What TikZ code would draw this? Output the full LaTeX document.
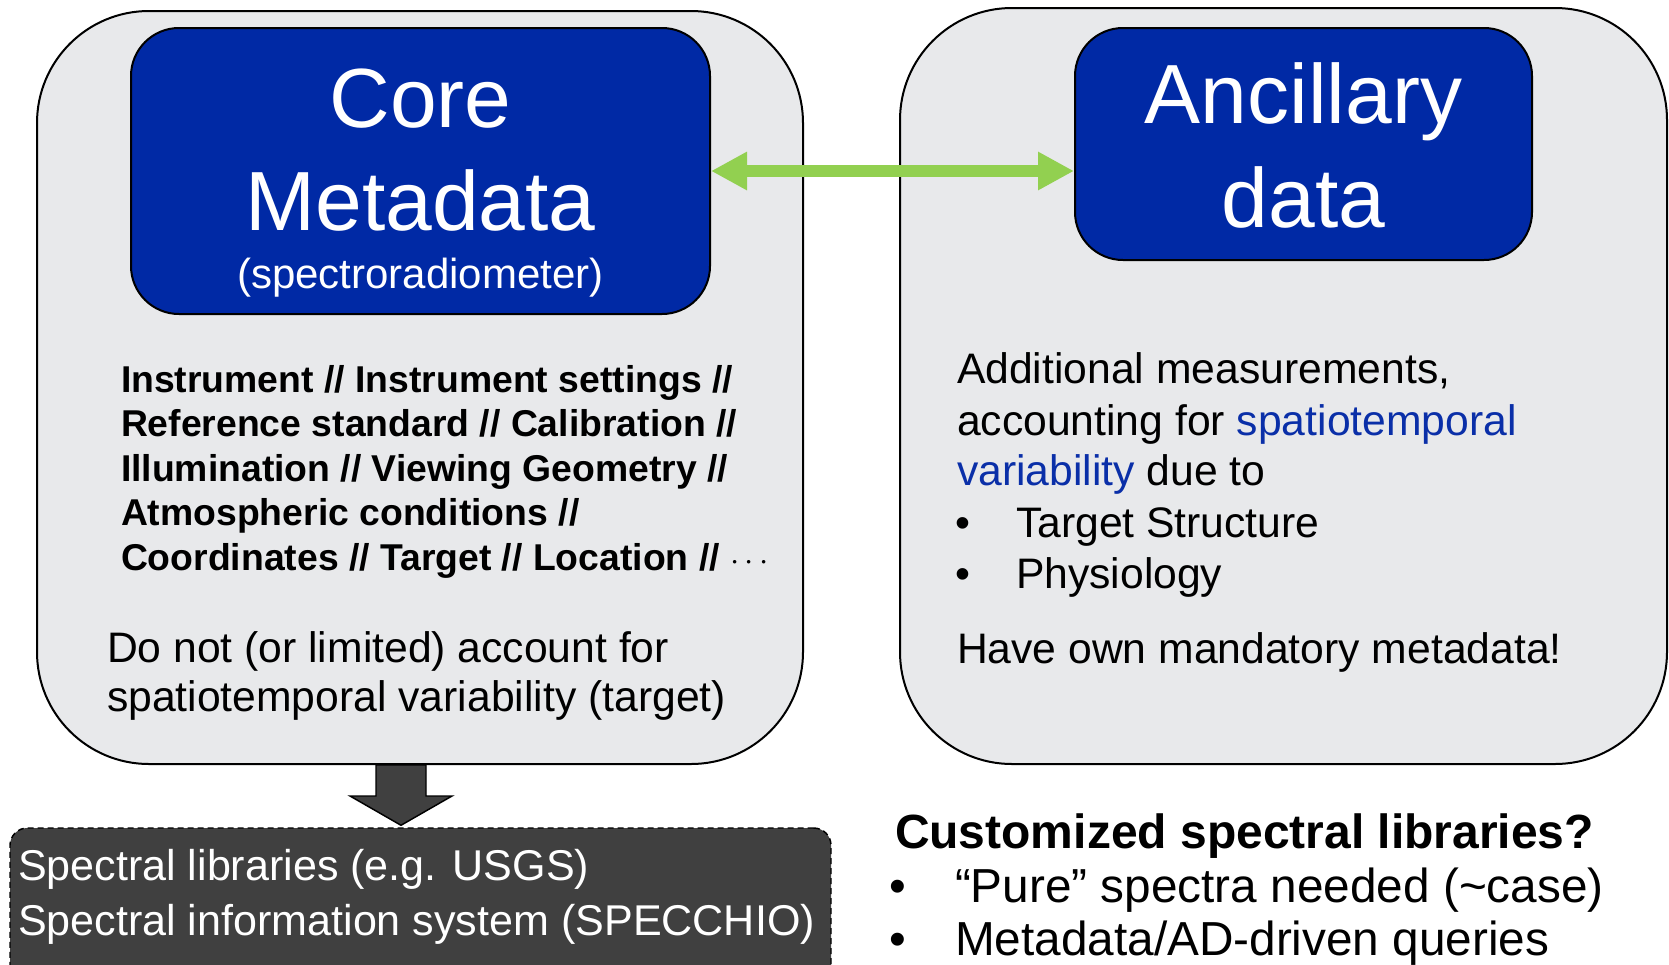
\documentclass[tikz,border=0pt]{standalone}
\usepackage{fontspec}
\setmainfont{Liberation Sans}
\usetikzlibrary{arrows.meta,calc,fit}

\definecolor{panelgray}{HTML}{E8E9EB}
\definecolor{boxblue}{HTML}{0029A5}
\definecolor{linkgreen}{HTML}{92D050}
\definecolor{darkfill}{HTML}{404040}
\definecolor{hiblue}{HTML}{0A2FA8}

\newcommand{\setfs}[1]{\fontsize{#1}{#1}\selectfont}

\begin{document}
\begin{tikzpicture}[x=0.75pt,y=-0.75pt,
  panel/.style={draw=black,line width=1.5pt,fill=panelgray,rounded corners=84pt,inner sep=0pt},
  titlebox/.style={draw=black,line width=1.5pt,fill=boxblue,rounded corners=36pt,inner sep=0pt},
  libbox/.style={draw=black,line width=1.1pt,dash pattern=on 4.5pt off 3pt,fill=darkfill,rounded corners=13pt,inner sep=0pt},
  txt/.style={anchor=base west,inner sep=0pt,outer sep=0pt},
  bigtitle/.style={anchor=base,inner sep=0pt,text=white,font=\setfs{63}},
  subtitle/.style={anchor=base,inner sep=0pt,text=white,font=\setfs{31.5}},
  boldlist/.style={txt,font=\bfseries\setfs{28}},
  body/.style={txt,font=\setfs{32}},
  libtext/.style={txt,text=white,font=\setfs{32.3}},
  question/.style={txt,font=\bfseries\setfs{36}},
  qbody/.style={txt,font=\setfs{35.8}},
  linkarrow/.style={draw=linkgreen,line width=9pt,
    {Triangle[width=27pt,length=27pt]}-{Triangle[width=27pt,length=27pt]}},
  downarrow/.style={draw=black,line width=1.1pt,fill=darkfill,line join=miter}
]
\useasboundingbox (0,0) rectangle (1669,964);
\clip (0,0) rectangle (1669,964);

% two panels
\node[panel,fit={(37,11) (803,764)}] (leftpanel) {};
\node[panel,fit={(900,8) (1667,764)}] (rightpanel) {};

% heading boxes
\node[titlebox,fit={(131,28) (710,314)}] (core) {};
\node[titlebox,fit={(1075,28) (1532,260)}] (anc) {};

\node[bigtitle] (coreA) at (420.5,127) {Core};
\node[bigtitle] (coreB) at (420.5,230) {Metadata};
\node[subtitle] (coreC) at (420.5,288) {(spectroradiometer)};
\node[bigtitle] (ancA) at (1303.5,123) {Ancillary};
\node[bigtitle] (ancB) at (1303.5,227) {data};

% link between the two kinds of metadata
\draw[linkarrow] (core.east) -- (core.east -| anc.west);

% core metadata items
\node[boldlist] (l1) at (121,392) {Instrument // Instrument settings //};
\node[boldlist] (l2) at (121,436.5) {Reference standard // Calibration //};
\node[boldlist] (l3) at (121,481) {Illumination // Viewing Geometry //};
\node[boldlist] (l4) at (121,525.5) {Atmospheric conditions //};
\node[boldlist] (l5) at (121,570) {Coordinates // Target // Location // $\cdots$};

\node[body] (n1) at (107,662) {Do not (or limited) account for};
\node[body] (n2) at (107,711) {spatiotemporal variability (target)};

% ancillary data description
\node[body] (r1) at (957,383) {Additional measurements,};
\node[body] (r2) at (957,435) {accounting for \textcolor{hiblue}{spatiotemporal}};
\node[body] (r3) at (957,485) {\textcolor{hiblue}{variability} due to};
\node[body] (b1) at (955,537) {•};
\node[body] (r4) at (1016,537) {Target Structure};
\node[body] (b2) at (955,588) {•};
\node[body] (r5) at (1016,588) {Physiology};
\node[body] (r6) at (957,663) {Have own mandatory metadata!};

% spectral libraries box
\node[libbox,fit={(10,828) (831,1010)}] (lib) {};
\node[libtext] (lib1) at (18,880) {Spectral libraries (e.g. USGS)};
\node[libtext] (lib2) at (18,935) {Spectral information system (SPECCHIO)};

% arrow from core panel down to the libraries
\coordinate (dtop) at ($(leftpanel.south)+(-19,0)$);
\coordinate (dtip) at ($(dtop |- lib.north)+(0,-2)$);
\draw[downarrow] ($(dtop)+(-25,0)$) -- ($(dtop)+(-25,31)$) -- ($(dtop)+(-51,31)$)
  -- (dtip) -- ($(dtop)+(51,31)$) -- ($(dtop)+(25,31)$) -- ($(dtop)+(25,0)$) -- cycle;

% open question
\node[question] (q0) at (895,848) {Customized spectral libraries?};
\node[qbody] (qb1) at (889,902) {•};
\node[qbody] (q1) at (955,902) {“Pure” spectra needed (\textasciitilde case)};
\node[qbody] (qb2) at (889,955) {•};
\node[qbody] (q2) at (955,955) {Metadata/AD-driven queries};
\end{tikzpicture}
\end{document}
